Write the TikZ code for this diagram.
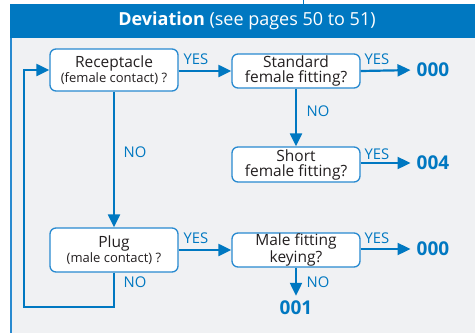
\documentclass[tikz,border=0pt]{standalone}
\usepackage{fontspec}
\setmainfont{Open Sans}
\usetikzlibrary{arrows.meta}
\definecolor{hblue}{RGB}{0,120,193}
\definecolor{lblue}{RGB}{40,138,208}
\definecolor{panel}{RGB}{240,241,243}
\definecolor{txt}{RGB}{35,31,32}
\newcommand{\subtxt}[1]{{\fontsize{13}{14}\selectfont #1}}
\begin{document}
\begin{tikzpicture}[x=1pt,y=-1pt,
  qbox/.style={draw=lblue,line width=1.3pt,fill=white,rounded corners=6pt,
    minimum width=128pt,align=center,text=txt,inner sep=0pt,
    font=\fontsize{15.5}{15}\selectfont},
  flow/.style={draw=hblue,line width=2.2pt,-{Triangle[length=13pt,width=12pt]},line join=miter},
  lab/.style={text=hblue,font=\fontsize{14.8}{15}\selectfont,inner sep=0pt},
  res/.style={text=hblue,font=\bfseries\fontsize{19}{19}\selectfont,inner sep=0pt}]
\useasboundingbox (0,0) rectangle (475,333);
\fill[white] (0,0) rectangle (475,333);
\fill[panel] (10,38) rectangle (475,333);
\fill[hblue] (10,4) rectangle (475,38);
\draw[lblue,line width=1.2pt] (11,38) -- (11,333);
\draw[hblue,line width=1pt] (303,0) -- (303,4);
\node[text=white,font=\fontsize{18}{18}\selectfont,inner sep=0pt] (title) at (247,21)
  {\textbf{Deviation} (see pages 50 to 51)};

\node[qbox,minimum height=42pt] (rec) at (114,70) {Receptacle\\\subtxt{(female contact) ?}};
\node[qbox,minimum height=34pt] (std) at (296,71) {Standard\\female fitting?};
\node[qbox,minimum height=35pt] (sht) at (296,164.5) {Short\\female fitting?};
\node[qbox,minimum height=44pt] (plug) at (114,250) {Plug\\\subtxt{(male contact) ?}};
\node[qbox,minimum height=34pt] (male) at (296,250) {Male fitting\\keying?};

\node[res] (r1) at (433,70) {000};
\node[res] (r2) at (433,163) {004};
\node[res] (r3) at (433,249) {000};
\node[res] (r4) at (296,308) {001};

\coordinate (c1) at (24,307);

\draw[flow] (rec.east |- std.west) -- (std.west);
\draw[flow,shorten >=6pt] (std.east) -- (r1.west);
\draw[flow] (std.south) -- (sht.north);
\draw[flow,shorten >=6pt] (sht.east |- r2.west) -- (r2.west);
\draw[flow] (rec.south) -- (plug.north);
\draw[flow] (plug.east) -- (male.west);
\draw[flow,shorten >=6pt] (male.east |- r3.west) -- (r3.west);
\draw[flow,shorten >=5pt] (male.south) -- (r4.north);
\draw[flow] (plug.south) |- (c1) |- (rec.west);

\node[lab] at (196,59) {YES};
\node[lab] at (377,59) {YES};
\node[lab] at (377,154) {YES};
\node[lab] at (196,238) {YES};
\node[lab] at (377,238) {YES};
\node[lab] at (318,111) {NO};
\node[lab] at (135,152) {NO};
\node[lab] at (135,282) {NO};
\node[lab] at (318,282) {NO};
\end{tikzpicture}
\end{document}
